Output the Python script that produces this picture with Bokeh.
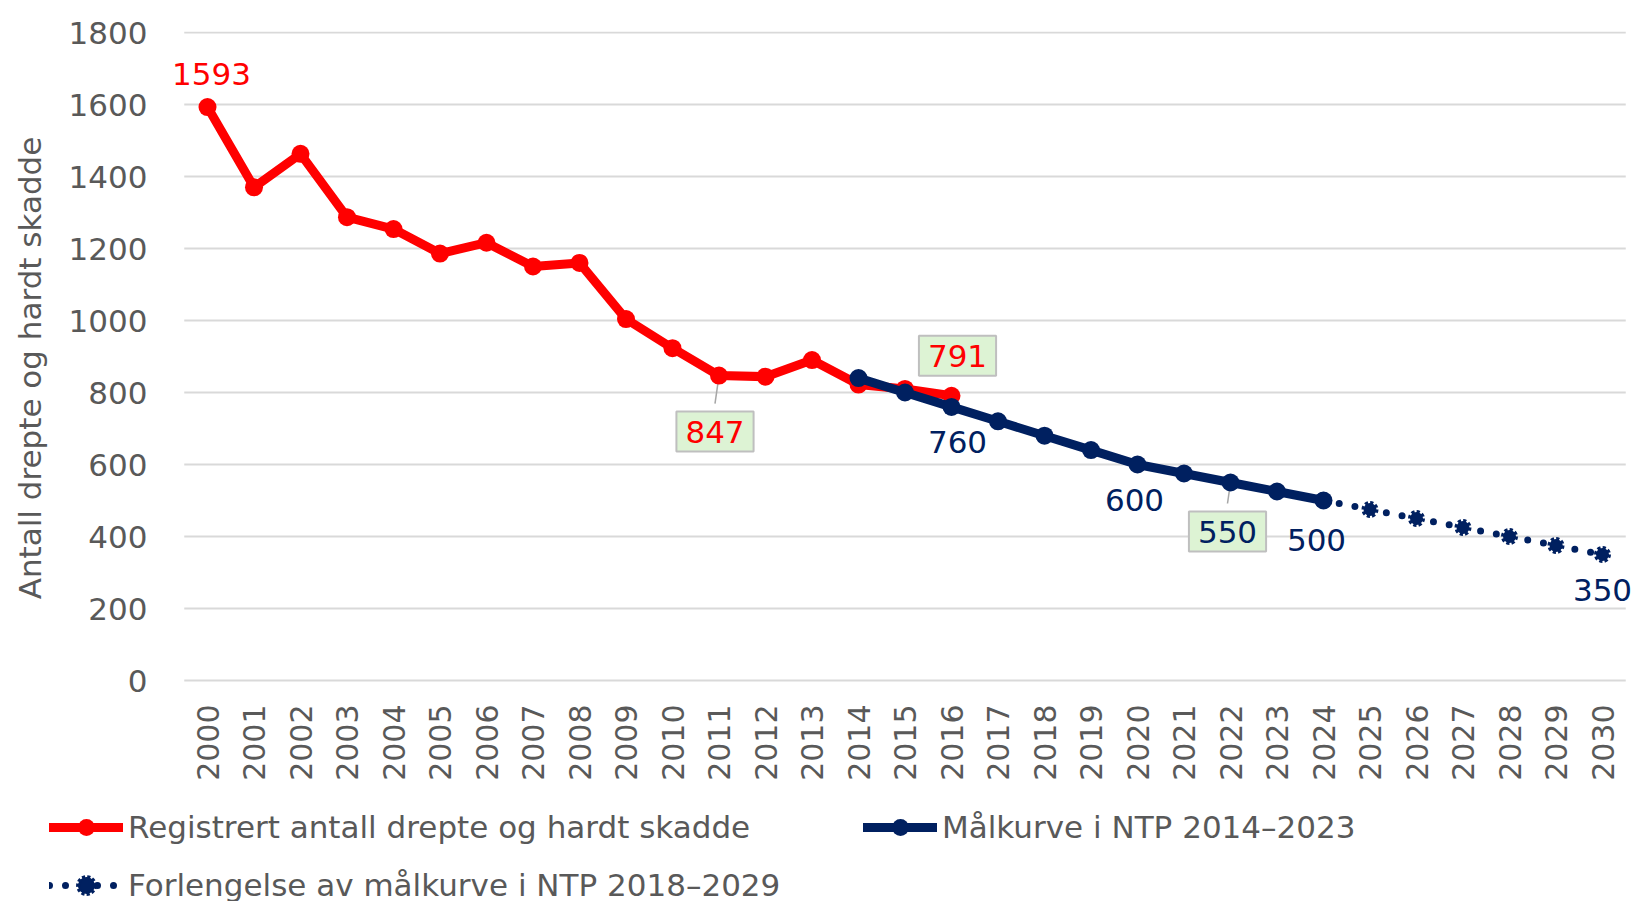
from bokeh.plotting import figure
from bokeh.models import Range1d, FixedTicker, Legend, LegendItem, Label
from bokeh.embed import file_html
from bokeh.resources import INLINE

# ---------------- data ----------------
years_registered = list(range(2000, 2017))
registered = [1593, 1370, 1463, 1287, 1254, 1186, 1216, 1150, 1160, 1004,
              923, 847, 844, 890, 822, 810, 791]
years_target = list(range(2014, 2025))
target = [840, 800, 760, 720, 680, 640, 600, 575, 550, 525, 500]
years_ext = list(range(2024, 2031))
extension = [500, 475, 450, 425, 400, 375, 350]
x_ticks = list(range(2000, 2031))
y_ticks = list(range(0, 1801, 200))

label_years = [2000, 2011, 2016, 2016, 2020, 2022, 2024, 2030]
label_values = [1593, 847, 791, 760, 600, 550, 500, 350]
label_series = ["reg", "reg", "reg", "tgt", "tgt", "tgt", "tgt", "ext"]

legend_labels = ["Registrert antall drepte og hardt skadde",
                 "Målkurve i NTP 2014–2023",
                 "Forlengelse av målkurve i NTP 2018–2029"]

# ---------------- style ----------------
RED = "#FF0000"
NAVY = "#002060"
GREY = "#595959"
GRID = "#D9D9D9"
FONT = "DejaVu Sans"
FS = "31px"
BOX_FILL = "#DDF3D4"
BOX_LINE = "#BFBFBF"

W = 1636
MAIN_H = 795
LEG_H = 106

# pixel geometry (figure coordinates)
FRAME_LEFT = 165
FRAME_TOP = 31
FRAME_BOTTOM = 704
X_FIRST = 207             # x pixel of first category
PPY = 46.5                # pixels per year
Y_ZERO = 680              # y pixel of value 0
PPU = 0.36                # pixels per unit

x_start = x_ticks[0] - (X_FIRST - FRAME_LEFT) / PPY
x_end = x_ticks[0] + (W - X_FIRST) / PPY
y_low = -(FRAME_BOTTOM - Y_ZERO) / PPU
y_high = (Y_ZERO - FRAME_TOP) / PPU

# label offsets (px, screen: dx right, dy down) and box flag
label_style = [
    (4, -33, False),
    (-4, 56, True),
    (6, -40, True),
    (6, 35, False),
    (-3, 35, False),
    (-3, 49, True),
    (-7, 39, False),
    (0, 35, False),
]
# leader lines: (index into labels, dx px, dy px to box edge)
leaders = [(1, -4, 28), (5, -3, 21)]

p = figure(width=W, height=MAIN_H, output_backend="svg", toolbar_location=None,
           x_range=Range1d(x_start, x_end), y_range=Range1d(y_low, y_high),
           min_border_left=FRAME_LEFT, min_border_right=0, min_border_top=FRAME_TOP,
           min_border_bottom=MAIN_H - FRAME_BOTTOM)
p.outline_line_color = None
p.background_fill_color = "white"
p.border_fill_color = "white"

# axes
p.xaxis.ticker = FixedTicker(ticks=x_ticks)
p.yaxis.ticker = FixedTicker(ticks=y_ticks)
for ax in (p.xaxis[0], p.yaxis[0]):
    ax.axis_line_color = None
    ax.major_tick_line_color = None
    ax.minor_tick_line_color = None
    ax.major_tick_out = 0
    ax.major_tick_in = 0
    ax.minor_tick_out = 0
    ax.minor_tick_in = 0
    ax.major_label_text_font = FONT
    ax.major_label_text_color = GREY
p.xaxis.major_label_text_font_size = "30px"
p.yaxis.major_label_text_font_size = FS
p.xaxis.major_label_orientation = 3.14159265 / 2
p.xaxis.major_label_standoff = 0
p.yaxis.major_label_standoff = 18
p.yaxis.axis_label = "Antall drepte og hardt skadde"
p.yaxis.axis_label_text_font = FONT
p.yaxis.axis_label_text_font_size = FS
p.yaxis.axis_label_text_font_style = "normal"
p.yaxis.axis_label_text_color = GREY
p.yaxis.axis_label_standoff = 18

p.xgrid.grid_line_color = None
p.ygrid.grid_line_color = None

# horizontal gridlines across the category span
p.segment(x0=[x_ticks[0] - 0.5] * len(y_ticks), y0=y_ticks,
          x1=[x_ticks[-1] + 0.5] * len(y_ticks), y1=y_ticks,
          line_color=GRID, line_width=2)

# leader lines
for idx, dx, dy in leaders:
    yr, v = label_years[idx], label_values[idx]
    p.segment(x0=[yr], y0=[v], x1=[yr + dx / PPY], y1=[v - dy / PPU],
              line_color="#A6A6A6", line_width=1.5)

# series styles
reg_line = dict(line_color=RED, line_width=9, line_join="round", line_cap="round")
reg_pts = dict(size=18, fill_color=RED, line_color=None)
tgt_line = dict(line_color=NAVY, line_width=9, line_join="round", line_cap="round")
tgt_pts = dict(size=18, fill_color=NAVY, line_color=None)
ext_line = dict(line_color=NAVY, line_width=7, line_dash="0 16", line_cap="round")
ext_pts = dict(size=13, fill_color=NAVY, line_color=NAVY, line_width=4, line_dash="3 2")

p.line(years_registered, registered, **reg_line)
p.scatter(years_registered, registered, **reg_pts)
p.line(years_target, target, **tgt_line)
p.scatter(years_target, target, **tgt_pts)
p.line(years_ext, extension, **ext_line)
p.scatter(years_ext, extension, **ext_pts)

# data labels
colors = {"reg": RED, "tgt": NAVY, "ext": NAVY}
for yr, v, s, (dx, dy, boxed) in zip(label_years, label_values, label_series, label_style):
    kw = {}
    if boxed:
        kw = dict(background_fill_color=BOX_FILL, border_line_color=BOX_LINE,
                  border_line_width=2, padding=9)
    lab = Label(x=yr, y=v, text=str(v), x_offset=dx, y_offset=-dy,
                text_font=FONT, text_font_size=FS, text_color=colors[s],
                text_align="center", text_baseline="middle", **kw)
    p.add_layout(lab)

# ---------------- legend strip (second root, below the chart) ----------------
# its ranges keep the proxy series out of view, only the legend samples show
lg = figure(width=W, height=LEG_H, output_backend="svg", toolbar_location=None,
            title=None, x_axis_type=None, y_axis_type=None,
            x_range=Range1d(0, 1), y_range=Range1d(0, 1),
            min_border_left=0, min_border_right=0, min_border_top=0, min_border_bottom=0)
lg.outline_line_color = None
lg.xgrid.visible = False
lg.ygrid.visible = False

g1 = lg.line(years_registered, registered, **reg_line)
g2 = lg.scatter(years_registered, registered, **reg_pts)
g3 = lg.line(years_target, target, **tgt_line)
g4 = lg.scatter(years_target, target, **tgt_pts)
g5 = lg.line(years_ext, extension, **ext_line)
g6 = lg.scatter(years_ext, extension, **ext_pts)

legend = Legend(items=[
    LegendItem(label=legend_labels[0], renderers=[g1, g2]),
    LegendItem(label=legend_labels[1], renderers=[g3, g4]),
    LegendItem(label=legend_labels[2], renderers=[g5, g6]),
], location=(49, -13), orientation="horizontal", ncols=2,
    glyph_width=74, glyph_height=42, label_height=58, label_width=735,
    label_standoff=5, spacing=0, padding=0, margin=0,
    label_text_font=FONT, label_text_font_size=FS, label_text_color=GREY,
    border_line_color=None, background_fill_alpha=0)
lg.add_layout(legend)

open("out.html", "w").write(file_html([p, lg], INLINE))
